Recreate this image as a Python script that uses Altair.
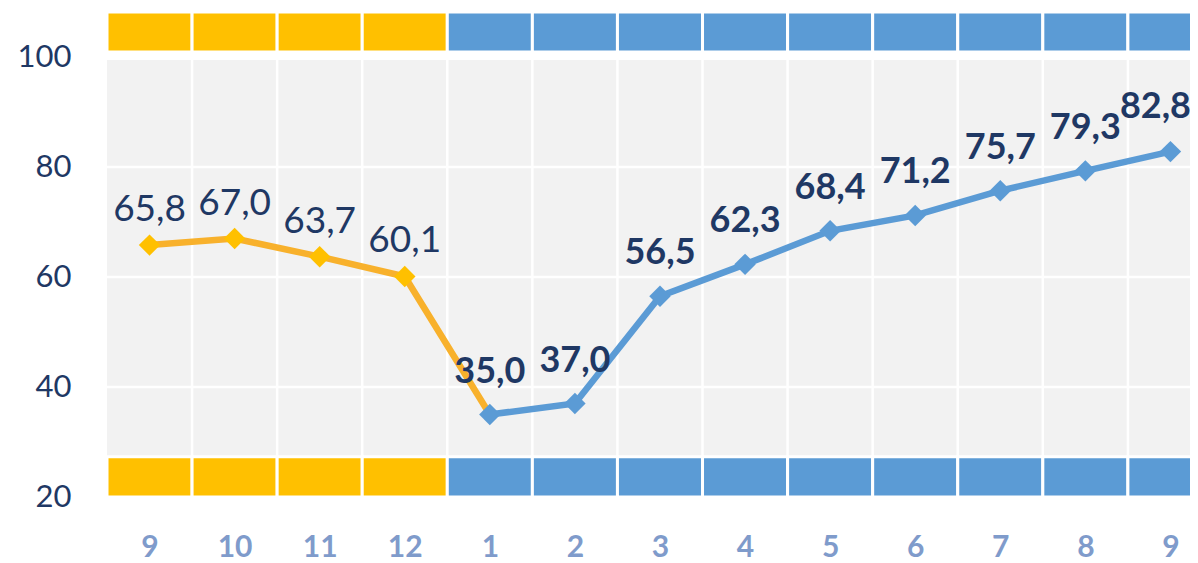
import json
import altair as alt
import pandas as pd

# ---- data ----
months = ["9", "10", "11", "12", "1", "2", "3", "4", "5", "6", "7", "8", "9"]
values = [65.8, 67.0, 63.7, 60.1, 35.0, 37.0, 56.5, 62.3, 68.4, 71.2, 75.7, 79.3, 82.8]
y_ticks = [20, 40, 60, 80, 100]
grid_y = [40, 60, 80]
blue_start = 4  # index where the second (blue) period starts

ORANGE_BAND = "#FFC000"
ORANGE_LINE = "#F8B12C"
BLUE = "#5B9BD5"
NAVY = "#1F3864"
XLAB = "#7F9BCB"
GRAY = "#F2F2F2"

n = len(months)
df = pd.DataFrame({"idx": list(range(n)), "month": months, "value": values})
df["pos"] = df["idx"] + 0.5
df["label"] = [f"{v:.1f}".replace(".", ",") for v in values]
df["group"] = ["a" if i < blue_start else "b" for i in range(n)]
df["x0"] = df["idx"]
df["x1"] = df["idx"] + 1

bounds = pd.DataFrame({"b": list(range(1, n))})
hgrid = pd.DataFrame({"gy": grid_y})

W = 1083
H = 487
x_scale = alt.Scale(domain=[0, 12.73], nice=False, zero=False)
y_scale = alt.Scale(domain=[20, 108.55], nice=False, zero=False)

label_expr = json.dumps(months) + "[floor(datum.value)]"
x_axis = alt.Axis(values=[i + 0.5 for i in range(n)], labelExpr=label_expr, title=None,
                  ticks=False, domain=False, grid=False, labelFont="Lato", labelFontSize=30,
                  labelFontWeight="bold", labelColor=XLAB, labelPadding=35, labelFlush=False,
                  labelOverlap=False)
y_axis = alt.Axis(values=y_ticks, title=None, ticks=False, domain=False, grid=False,
                  labelFont="Lato", labelFontSize=31, labelColor=NAVY, labelPadding=36)


def X(field):
    return alt.X(field, scale=x_scale, axis=x_axis)


def Y(field):
    return alt.Y(field, scale=y_scale, axis=y_axis)


bg = alt.Chart(pd.DataFrame({"k": [0]})).mark_rect(color=GRAY, clip=True).encode(
    x=alt.datum(0, scale=x_scale, axis=x_axis),
    x2=alt.datum(13),
    y=alt.datum(20, scale=y_scale, axis=y_axis),
    y2=alt.datum(99.45),
)

vgrid = alt.Chart(bounds).mark_rule(color="white", strokeWidth=2.5).encode(
    x=X("b:Q"),
    y=alt.datum(20, scale=y_scale, axis=y_axis),
    y2=alt.datum(99.45),
)

hgrid_layer = alt.Chart(hgrid).mark_rule(color="white", strokeWidth=2.5).encode(
    y=Y("gy:Q"),
    x=alt.value(0),
    x2=alt.value(W),
)

band_color = alt.Color("group:N", scale=alt.Scale(domain=["a", "b"], range=[ORANGE_BAND, BLUE]), legend=None)

top_band = alt.Chart(df).mark_rect(stroke="white", strokeWidth=3, clip=True).encode(
    x=X("x0:Q"),
    x2="x1:Q",
    y=alt.datum(100.9, scale=y_scale, axis=y_axis),
    y2=alt.datum(108.2),
    color=band_color,
)
bottom_band = alt.Chart(df).mark_rect(stroke="white", strokeWidth=3, clip=True).encode(
    x=X("x0:Q"),
    x2="x1:Q",
    y=alt.datum(20, scale=y_scale, axis=y_axis),
    y2=alt.datum(27.3),
    color=band_color,
)

orange_df = df[df["idx"] <= blue_start]
blue_df = df[df["idx"] >= blue_start]

orange_line = alt.Chart(orange_df).mark_line(color=ORANGE_LINE, strokeWidth=6.5).encode(
    x=X("pos:Q"), y=Y("value:Q"),
)
blue_line = alt.Chart(blue_df).mark_line(color=BLUE, strokeWidth=6.5).encode(
    x=X("pos:Q"), y=Y("value:Q"),
)
orange_pts = alt.Chart(df[df["idx"] < blue_start]).mark_point(
    shape="diamond", filled=True, size=460, opacity=1, color=ORANGE_BAND).encode(
    x=X("pos:Q"), y=Y("value:Q"),
)
blue_pts = alt.Chart(blue_df).mark_point(
    shape="diamond", filled=True, size=460, opacity=1, color=BLUE).encode(
    x=X("pos:Q"), y=Y("value:Q"),
)

lab_reg = alt.Chart(df[df["idx"] < blue_start]).mark_text(
    font="Lato", fontSize=37, color=NAVY, baseline="bottom", dy=-16).encode(
    x=X("pos:Q"), y=Y("value:Q"), text="label:N",
)
lab_bold = alt.Chart(df[(df["idx"] >= blue_start) & (df["idx"] < n - 1)]).mark_text(
    font="Lato", fontSize=36, fontWeight="bold", color=NAVY, baseline="bottom", dy=-24).encode(
    x=X("pos:Q"), y=Y("value:Q"), text="label:N",
)
lab_last = alt.Chart(df[df["idx"] == n - 1]).mark_text(
    font="Lato", fontSize=36, fontWeight="bold", color=NAVY, baseline="bottom", dy=-26, dx=-15).encode(
    x=X("pos:Q"), y=Y("value:Q"), text="label:N",
)

chart = alt.layer(
    bg, vgrid, hgrid_layer, top_band, bottom_band,
    orange_line, blue_line, orange_pts, blue_pts,
    lab_reg, lab_bold, lab_last,
).properties(
    width=W, height=H,
    autosize=alt.AutoSizeParams(type="none"),
    padding={"left": 99, "top": 2, "right": 0, "bottom": 64},
    background="white",
).configure_view(stroke=None)

chart.save("out.html", embed_options={"renderer": "svg", "actions": False})
